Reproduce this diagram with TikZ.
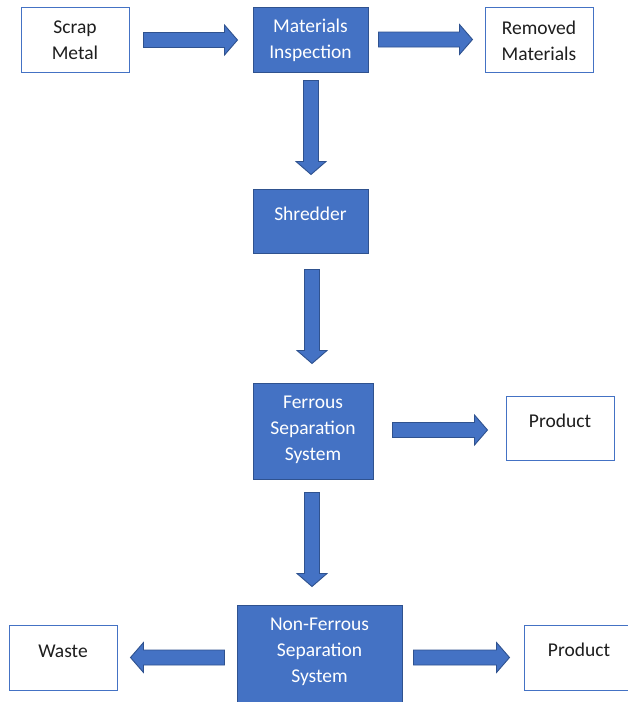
\documentclass[tikz,border=0pt]{standalone}
\usepackage{fontspec}
\setmainfont{Carlito}
\usetikzlibrary{calc}
\definecolor{ofblue}{HTML}{4472C4}
\definecolor{ofedge}{HTML}{2F528F}
\definecolor{txtdark}{HTML}{1E1E1E}
\tikzset{
  bluebox/.style={draw=ofedge, fill=ofblue, line width=1pt, inner sep=0pt},
  whitebox/.style={draw=ofblue, fill=white, line width=1pt, inner sep=0pt},
  wtext/.style={text=white, font=\fontsize{19.5}{26}\selectfont, align=center, inner sep=0pt},
  ktext/.style={text=txtdark, font=\fontsize{19.5}{26}\selectfont, align=center, inner sep=0pt},
  barrow/.style={draw=ofedge, fill=ofblue, line width=0.9pt, line join=miter}
}
\newcommand\blkarrow[2]{%
  \coordinate (ba-h) at ($(#2)!13pt!(#1)$);
  \draw[barrow] ($(#1)!7.5pt!90:(#2)$) -- ($(ba-h)!7.5pt!90:(#2)$) -- ($(ba-h)!15pt!90:(#2)$) -- (#2)
    -- ($(ba-h)!15pt!-90:(#2)$) -- ($(ba-h)!7.5pt!-90:(#2)$) -- ($(#1)!7.5pt!-90:(#2)$) -- cycle;
}
\begin{document}
\begin{tikzpicture}[x=1pt, y=-1pt]
\useasboundingbox (0,0) rectangle (628,702);
\fill[white] (0,0) rectangle (628,702);

% boxes
\node[whitebox, minimum width=108pt, minimum height=65pt] (scrap) at (75,39.5) {};
\node[bluebox, minimum width=115pt, minimum height=65pt] (mi) at (310.5,39.5) {};
\node[whitebox, minimum width=108pt, minimum height=65pt] (rem) at (539,39.5) {};
\node[bluebox, minimum width=115pt, minimum height=64pt] (shred) at (310.5,221) {};
\node[bluebox, minimum width=120pt, minimum height=96pt] (fer) at (313,431) {};
\node[whitebox, minimum width=108pt, minimum height=64pt] (prod1) at (560,428) {};
\node[bluebox, minimum width=165pt, minimum height=105pt] (nf) at (319.5,657.5) {};
\node[whitebox, minimum width=108pt, minimum height=65pt] (waste) at (63,657.5) {};
\node[whitebox, minimum width=108pt, minimum height=65pt] (prod2) at (578,657.5) {};

% texts
\node[ktext] (scrapT) at (75,40.5) {Scrap\\Metal};
\node[wtext] (miT) at (310.5,40.5) {Materials\\Inspection};
\node[ktext] (remT) at (539,40.5) {Removed\\Materials};
\node[wtext] (shredT) at (310.5,214) {Shredder};
\node[wtext] (ferT) at (313,430) {Ferrous\\Separation\\System};
\node[ktext] (prod1T) at (560,421) {Product};
\node[wtext] (nfT) at (319.5,652) {Non-Ferrous\\Separation\\System};
\node[ktext] (wasteT) at (63,651) {Waste};
\node[ktext] (prod2T) at (579,650) {Product};

% arrow end points
\coordinate (a1s) at ($(scrap.east)+(14,0.5)$);
\coordinate (a1e) at ($(mi.west)+(-15,0.5)$);
\coordinate (a2s) at ($(mi.east)+(10,0)$);
\coordinate (a2e) at ($(rem.west)+(-12,0)$);
\coordinate (d1s) at ($(mi.south)+(0.5,8)$);
\coordinate (d1e) at ($(shred.north)+(0.5,-14)$);
\coordinate (d2s) at ($(shred.south)+(1.5,16)$);
\coordinate (d2e) at ($(fer.north)+(-1,-19)$);
\coordinate (r1s) at ($(fer.east)+(19,-1)$);
\coordinate (r1e) at ($(prod1.west)+(-18,2)$);
\coordinate (d3s) at ($(fer.south)+(-1,13)$);
\coordinate (d3e) at ($(nf.north)+(-7.5,-18)$);
\coordinate (l1s) at ($(nf.west)+(-12,0)$);
\coordinate (l1e) at ($(waste.east)+(13,0)$);
\coordinate (r2s) at ($(nf.east)+(11,0)$);
\coordinate (r2e) at ($(prod2.west)+(-14,0)$);

\blkarrow{a1s}{a1e}
\blkarrow{a2s}{a2e}
\blkarrow{d1s}{d1e}
\blkarrow{d2s}{d2e}
\blkarrow{r1s}{r1e}
\blkarrow{d3s}{d3e}
\blkarrow{l1s}{l1e}
\blkarrow{r2s}{r2e}
\end{tikzpicture}
\end{document}
